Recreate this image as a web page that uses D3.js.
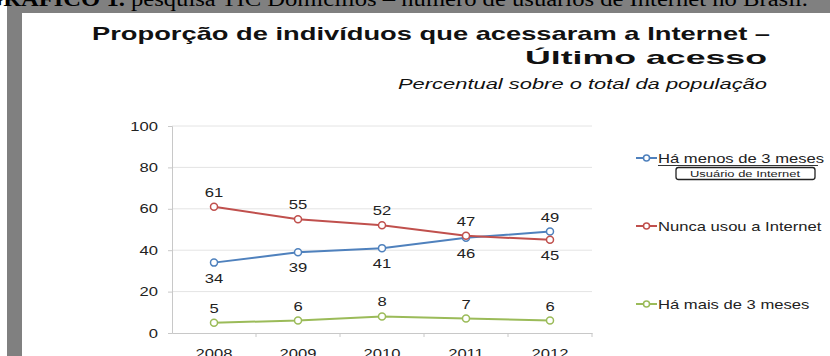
<!DOCTYPE html>
<html>
<head>
<meta charset="utf-8">
<script src="https://cdn.jsdelivr.net/npm/d3@7"></script>
<style>
  body { margin: 0; background: #fff; }
  svg { display: block; }
</style>
</head>
<body>
<svg id="chart" width="830" height="356"></svg>
<script>
// values
const years = ["2008", "2009", "2010", "2011", "2012"];
const menos3 = [34, 39, 41, 46, 49];
const nunca = [61, 55, 52, 47, 45];
const mais3 = [5, 6, 8, 7, 6];
const yTicks = [0, 20, 40, 60, 80, 100];

const blue = "#4f81bd";
const red = "#c0504d";
const green = "#9bbb59";
const sans = "Liberation Sans, Arial, sans-serif";
// the scanned picture is stretched sideways, so texts are too
const sx = 1.33;

const svg = d3.select("#chart");

// grey frame of the scanned page
svg.append("rect").attr("x", 7).attr("y", 0).attr("width", 830).attr("height", 360).attr("fill", "#808080");
svg.append("rect").attr("x", 22).attr("y", 13).attr("width", 830).attr("height", 360).attr("fill", "#fff");

// caption of the page, cut at the top
const cap = svg.append("text")
  .attr("x", -16).attr("y", 6)
  .attr("textLength", 824).attr("lengthAdjust", "spacingAndGlyphs")
  .style("font-family", "Liberation Serif, serif")
  .style("font-size", "20px")
  .attr("fill", "#000");
cap.append("tspan").style("font-weight", "bold").text("GRÁFICO 1.");
cap.append("tspan").text(" pesquisa TIC Domicílios – número de usuários de Internet no Brasil.");

// titles
svg.append("text")
  .attr("x", 92).attr("y", 40)
  .attr("textLength", 678).attr("lengthAdjust", "spacingAndGlyphs")
  .style("font-family", sans)
  .style("font-size", "19px").style("font-weight", "bold")
  .attr("fill", "#111")
  .text("Proporção de indivíduos que acessaram a Internet –");
svg.append("text")
  .attr("x", 525).attr("y", 64)
  .attr("textLength", 242).attr("lengthAdjust", "spacingAndGlyphs")
  .style("font-family", sans)
  .style("font-size", "19px").style("font-weight", "bold")
  .attr("fill", "#111")
  .text("Último acesso");
svg.append("text")
  .attr("x", 398).attr("y", 89)
  .attr("textLength", 369).attr("lengthAdjust", "spacingAndGlyphs")
  .style("font-family", sans)
  .style("font-size", "15px").style("font-style", "italic")
  .attr("fill", "#111")
  .text("Percentual sobre o total da população");

// plot area
const m = { left: 172, right: 592, top: 126, bottom: 333 };

const x = d3.scaleBand().domain(years).range([m.left, m.right]).padding(0);
const y = d3.scaleLinear().domain([0, 100]).range([m.bottom, m.top]);

const g = svg.append("g");

// horizontal gridlines
g.selectAll(".grid").data(yTicks.filter(d => d > 0)).join("line")
  .attr("x1", m.left).attr("x2", m.right)
  .attr("y1", d => y(d)).attr("y2", d => y(d))
  .attr("stroke", "#e4e4e4").attr("stroke-width", 1);

// y axis
const yAxis = g.append("g")
  .attr("transform", `translate(${m.left},0)`)
  .call(d3.axisLeft(y).tickValues(yTicks).tickSize(4));
yAxis.select(".domain").attr("stroke", "#c8c8c8");
yAxis.selectAll(".tick line").attr("stroke", "#c8c8c8");
yAxis.selectAll(".tick text")
  .attr("x", -14 / sx)
  .attr("transform", `scale(${sx},1)`)
  .style("font-family", sans)
  .style("font-size", "12.5px").attr("fill", "#222");

// x axis
const xAxis = g.append("g")
  .attr("transform", `translate(0,${m.bottom})`)
  .call(d3.axisBottom(x).tickSize(0).tickPadding(16));
xAxis.select(".domain").attr("stroke", "#c8c8c8");
xAxis.selectAll(".tick text")
  .attr("transform", `scale(${sx},1)`)
  .style("font-family", sans)
  .style("font-size", "12.5px").attr("fill", "#222");
// tick marks on category boundaries
g.selectAll(".xb").data(years).join("line")
  .attr("x1", d => x(d) + x.bandwidth())
  .attr("x2", d => x(d) + x.bandwidth())
  .attr("y1", m.bottom).attr("y2", m.bottom + 4)
  .attr("stroke", "#c8c8c8");

const series = [
  { name: "Há menos de 3 meses", values: menos3, color: blue, pos: ["below", "below", "below", "below", "above"] },
  { name: "Nunca usou a Internet", values: nunca, color: red, pos: ["above", "above", "above", "above", "below"] },
  { name: "Há mais de 3 meses", values: mais3, color: green, pos: ["above", "above", "above", "above", "above"] }
];

const cx = d => x(d) + x.bandwidth() / 2;
const line = d3.line().x((d, i) => cx(years[i])).y(d => y(d));

series.forEach(s => {
  g.append("path")
    .attr("d", line(s.values))
    .attr("fill", "none")
    .attr("stroke", s.color)
    .attr("stroke-width", 2);
  g.selectAll(null).data(s.values).join("circle")
    .attr("cx", (d, i) => cx(years[i]))
    .attr("cy", d => y(d))
    .attr("r", 3.5)
    .attr("fill", "#fff")
    .attr("stroke", s.color)
    .attr("stroke-width", 1.5);
  g.selectAll(null).data(s.values).join("text")
    .attr("transform", (d, i) =>
      `translate(${cx(years[i])},${s.pos[i] === "above" ? y(d) - 10 : y(d) + 20}) scale(${sx},1)`)
    .attr("text-anchor", "middle")
    .style("font-family", sans)
    .style("font-size", "12.5px")
    .attr("fill", "#222")
    .text(d => d);
});

// legend
const legendY = [158, 226, 304];
const leg = svg.append("g");
series.forEach((s, i) => {
  const ly = legendY[i];
  leg.append("line")
    .attr("x1", 636).attr("x2", 657)
    .attr("y1", ly).attr("y2", ly)
    .attr("stroke", s.color).attr("stroke-width", 2);
  leg.append("circle")
    .attr("cx", 646.5).attr("cy", ly).attr("r", 3)
    .attr("fill", "#fff").attr("stroke", s.color).attr("stroke-width", 1.5);
  leg.append("text")
    .attr("transform", `translate(658,${ly + 4.5}) scale(${sx},1)`)
    .style("font-family", sans)
    .style("font-size", "12.5px")
    .attr("fill", "#222")
    .text(s.name);
});
// underline and boxed note under first legend entry
leg.append("line")
  .attr("x1", 658).attr("x2", 818)
  .attr("y1", 165.5).attr("y2", 165.5)
  .attr("stroke", "#333").attr("stroke-width", 1);
leg.append("rect")
  .attr("x", 676).attr("y", 167.5).attr("width", 139).attr("height", 12)
  .attr("rx", 2.5)
  .attr("fill", "#fff").attr("stroke", "#222").attr("stroke-width", 1.3);
leg.append("text")
  .attr("x", 690).attr("y", 176.5)
  .attr("textLength", 110).attr("lengthAdjust", "spacingAndGlyphs")
  .style("font-family", sans)
  .style("font-size", "8.5px")
  .attr("fill", "#222")
  .text("Usuário de Internet");
</script>
</body>
</html>
